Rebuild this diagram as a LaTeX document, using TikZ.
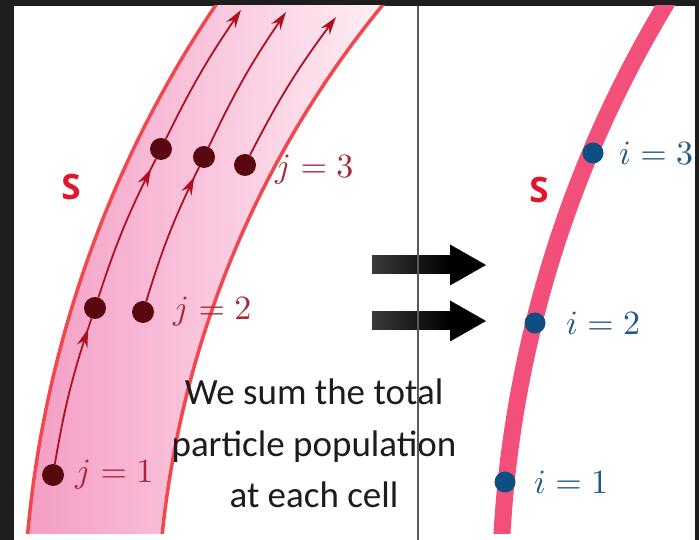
\documentclass[tikz,border=0pt]{standalone}
\usepackage{graphicx}
\usepackage{fontspec}
\setmainfont{Carlito}
\newfontfamily\osans{Open Sans}
\usetikzlibrary{arrows.meta,decorations.markings,calc}
\definecolor{bgdark}{HTML}{1E1E1E}
\definecolor{bandred}{HTML}{F2474C}
\definecolor{bandl}{HTML}{F49AC3}
\definecolor{bandr}{HTML}{FFF2F7}
\definecolor{trail}{HTML}{AE1020}
\definecolor{dotred}{HTML}{5A0810}
\definecolor{jlab}{HTML}{A82838}
\definecolor{ilab}{HTML}{1F5A8A}
\definecolor{cellpink}{HTML}{F2507A}
\definecolor{dotblue}{HTML}{0D4F82}
\definecolor{slab}{HTML}{E4142C}
\definecolor{vline}{HTML}{5A5A5A}
\definecolor{txt}{HTML}{1C1C1C}
\definecolor{shaftl}{HTML}{3A3A3A}
\newcommand{\bigmath}[1]{\scalebox{3.4}{$#1$}}
\tikzset{
  pdot/.style={circle,fill=dotred,minimum size=22pt,inner sep=0pt},
  cdot/.style={circle,fill=dotblue,minimum size=21pt,inner sep=0pt},
  trailmid/.style={trail,line width=1.8pt,postaction={decorate},
    decoration={markings,mark=at position -11pt with {\arrow{Stealth[length=18pt,width=11pt]}}}},
  trailend/.style={trail,line width=1.8pt,-{Stealth[length=18pt,width=11pt]}},
  jlabel/.style={anchor=west,inner sep=0pt,text=jlab},
  ilabel/.style={anchor=west,inner sep=0pt,text=ilab},
  slabel/.style={inner sep=0pt,text=slab,font=\osans\bfseries\fontsize{35}{40}\selectfont},
  caption/.style={anchor=base,inner sep=0pt,text=txt,font=\fontsize{37}{44}\selectfont},
  bandline/.style={draw=bandred,line width=3.5pt},
}
\begin{document}
\begin{tikzpicture}[x=1pt,y=1pt]
\useasboundingbox (0,0) rectangle (699,540);
\fill[bgdark] (0,0) rectangle (699,540);
\fill[white] (14,0) rectangle (695,534);
\coordinate (C) at (1152,-96);
\coordinate (D) at (1657,-61);
\begin{scope}
  \clip (14,6) rectangle (695,534);
  % band
  \begin{scope}
    \clip ($(C)+(176:1129)$) arc[start angle=176,end angle=138,radius=1129]
      -- ($(C)+(138:995)$) arc[start angle=138,end angle=176,radius=995] -- cycle;
    \shade[left color=bandl,right color=bandr] (14,0) rectangle (400,540);
  \end{scope}
  \draw[bandline] ($(C)+(176:1129)$) arc[start angle=176,end angle=138,radius=1129];
  \draw[bandline] ($(C)+(176:995)$) arc[start angle=176,end angle=138,radius=995];
  % right cell curve
  \draw[cellpink,line width=17pt] ($(D)+(179:1157)$) arc[start angle=179,end angle=145,radius=1157];
\end{scope}
% particles
\node[pdot] (a1) at (53,65) {};
\node[pdot] (a2) at (95,232) {};
\node[pdot] (a3) at (161,391) {};
\node[pdot] (b2) at (143,228) {};
\node[pdot] (b3) at (204,383) {};
\node[pdot] (c3) at (245,375) {};
\coordinate (ta) at (241,530);
\coordinate (tb) at (286,528);
\coordinate (tc) at (336,523);
\draw[trailmid] (a1) to[bend left=4.5] (a2);
\draw[trailmid] (a2) to[bend left=4.5] (a3);
\draw[trailend] (a3) to[bend left=4.1] (ta);
\draw[trailmid] (b2) to[bend left=4.5] (b3);
\draw[trailend] (b3) to[bend left=4.5] (tb);
\draw[trailend] (c3) to[bend left=4.8] (tc);
\node[jlabel] (j1) at (75,65) {\bigmath{j=1}};
\node[jlabel] (j2) at (173,228) {\bigmath{j=2}};
\node[jlabel] (j3) at (275,370) {\bigmath{j=3}};
\node[slabel] (s1) at (71,353) {S};
% caption
\node[caption] (t1) at (314,135) {We sum the total};
\node[caption] (t2) at (314,83) {particle population};
\node[caption] (t3) at (314,32) {at each cell};
% big arrows
\shade[left color=shaftl,right color=black] (372,266) rectangle (451,284);
\fill[black] (450,295.5) -- (486,275) -- (450,254.5) -- cycle;
\shade[left color=shaftl,right color=black] (372,210) rectangle (451,228);
\fill[black] (450,239.5) -- (486,219) -- (450,198.5) -- cycle;
% divider
\coordinate (vb) at (418,0);
\coordinate (vt) at (418,534);
\draw[vline,line width=2.2pt] (vb) -- (vt);
% cells
\node[cdot] (c1) at (505,58) {};
\node[cdot] (c2) at (535,217) {};
\node[cdot] (c3b) at (593,387) {};
\node[ilabel] (i1) at (534,58) {\bigmath{i=1}};
\node[ilabel] (i2) at (566,217) {\bigmath{i=2}};
\node[ilabel] (i3) at (619,387) {\bigmath{i=3}};
\node[slabel] (s2) at (539,350) {S};
\end{tikzpicture}
\end{document}
